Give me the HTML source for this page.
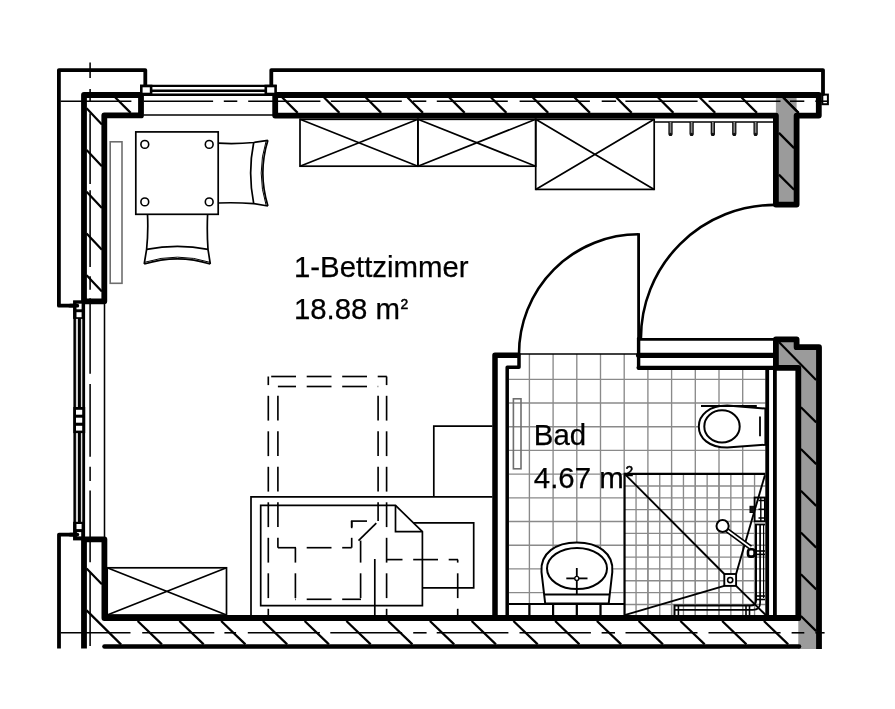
<!DOCTYPE html>
<html><head><meta charset="utf-8"><title>Floor plan</title>
<style>html,body{margin:0;padding:0;background:#fff;}body{width:895px;height:709px;overflow:hidden;font-family:"Liberation Sans",sans-serif;}svg{display:block;will-change:transform;}text{font-family:"Liberation Sans",sans-serif;fill:#000;}</style>
</head><body>
<svg width="895" height="709" viewBox="0 0 895 709">
<rect width="895" height="709" fill="#fff"/>
<g stroke="#8a8a8a" stroke-width="1.35" fill="none">
<line x1="529.40" y1="354" x2="529.40" y2="616"/>
<line x1="553.10" y1="354" x2="553.10" y2="616"/>
<line x1="576.80" y1="354" x2="576.80" y2="616"/>
<line x1="600.50" y1="354" x2="600.50" y2="616"/>
<line x1="624.20" y1="354" x2="624.20" y2="616"/>
<line x1="647.90" y1="370" x2="647.90" y2="616"/>
<line x1="671.60" y1="370" x2="671.60" y2="616"/>
<line x1="695.30" y1="370" x2="695.30" y2="616"/>
<line x1="719.00" y1="370" x2="719.00" y2="616"/>
<line x1="742.70" y1="370" x2="742.70" y2="616"/>
<line x1="509" y1="379.30" x2="765.5" y2="379.30"/>
<line x1="509" y1="403.00" x2="765.5" y2="403.00"/>
<line x1="509" y1="426.70" x2="765.5" y2="426.70"/>
<line x1="509" y1="450.40" x2="765.5" y2="450.40"/>
<line x1="509" y1="474.10" x2="624.5" y2="474.10"/>
<line x1="509" y1="497.80" x2="624.5" y2="497.80"/>
<line x1="509" y1="521.50" x2="624.5" y2="521.50"/>
<line x1="509" y1="545.20" x2="624.5" y2="545.20"/>
<line x1="509" y1="568.90" x2="624.5" y2="568.90"/>
<line x1="509" y1="592.60" x2="624.5" y2="592.60"/>
<line x1="636.05" y1="474.10" x2="636.05" y2="616"/>
<line x1="647.90" y1="474.10" x2="647.90" y2="616"/>
<line x1="659.75" y1="474.10" x2="659.75" y2="616"/>
<line x1="671.60" y1="474.10" x2="671.60" y2="616"/>
<line x1="683.45" y1="474.10" x2="683.45" y2="616"/>
<line x1="695.30" y1="474.10" x2="695.30" y2="616"/>
<line x1="707.15" y1="474.10" x2="707.15" y2="616"/>
<line x1="719.00" y1="474.10" x2="719.00" y2="616"/>
<line x1="730.85" y1="474.10" x2="730.85" y2="616"/>
<line x1="742.70" y1="474.10" x2="742.70" y2="616"/>
<line x1="754.55" y1="474.10" x2="754.55" y2="616"/>
<line x1="624.20" y1="485.95" x2="765.5" y2="485.95"/>
<line x1="624.20" y1="497.80" x2="765.5" y2="497.80"/>
<line x1="624.20" y1="509.65" x2="765.5" y2="509.65"/>
<line x1="624.20" y1="521.50" x2="765.5" y2="521.50"/>
<line x1="624.20" y1="533.35" x2="765.5" y2="533.35"/>
<line x1="624.20" y1="545.20" x2="765.5" y2="545.20"/>
<line x1="624.20" y1="557.05" x2="765.5" y2="557.05"/>
<line x1="624.20" y1="568.90" x2="765.5" y2="568.90"/>
<line x1="624.20" y1="580.75" x2="765.5" y2="580.75"/>
<line x1="624.20" y1="592.60" x2="765.5" y2="592.60"/>
<line x1="624.20" y1="604.45" x2="765.5" y2="604.45"/>
</g>
<g fill="#9b9b9b" stroke="none">
<rect x="775.9" y="95" width="20.7" height="109.6"/>
<polygon points="775.9,339.3 796.6,339.3 796.6,347.2 819,347.2 819,648.9 798.3,648.9 798.3,367.9 775.9,367.9"/>
</g>
<g stroke="#000" stroke-width="2.2" fill="none">
<line x1="115.30" y1="97.5" x2="130.70" y2="112.9"/>
<line x1="282.30" y1="97.5" x2="297.70" y2="112.9"/>
<line x1="324.05" y1="97.5" x2="339.45" y2="112.9"/>
<line x1="365.80" y1="97.5" x2="381.20" y2="112.9"/>
<line x1="407.55" y1="97.5" x2="422.95" y2="112.9"/>
<line x1="449.30" y1="97.5" x2="464.70" y2="112.9"/>
<line x1="491.05" y1="97.5" x2="506.45" y2="112.9"/>
<line x1="532.80" y1="97.5" x2="548.20" y2="112.9"/>
<line x1="574.55" y1="97.5" x2="589.95" y2="112.9"/>
<line x1="616.30" y1="97.5" x2="631.70" y2="112.9"/>
<line x1="658.05" y1="97.5" x2="673.45" y2="112.9"/>
<line x1="699.80" y1="97.5" x2="715.20" y2="112.9"/>
<line x1="741.55" y1="97.5" x2="756.95" y2="112.9"/>
<line x1="783.30" y1="97.5" x2="798.70" y2="112.9"/>
<line x1="86.6" y1="108.30" x2="101.9" y2="124.50"/>
<line x1="86.6" y1="150.05" x2="101.9" y2="166.25"/>
<line x1="86.6" y1="191.80" x2="101.9" y2="208.00"/>
<line x1="86.6" y1="233.55" x2="101.9" y2="249.75"/>
<line x1="86.6" y1="275.30" x2="101.9" y2="291.50"/>
<line x1="86.6" y1="568.5" x2="101.9" y2="584.2"/>
<line x1="86.6" y1="610.4" x2="121.2" y2="644.6"/>
<line x1="137.65" y1="621" x2="161.95" y2="644.4"/>
<line x1="179.40" y1="621" x2="203.70" y2="644.4"/>
<line x1="221.15" y1="621" x2="245.45" y2="644.4"/>
<line x1="262.90" y1="621" x2="287.20" y2="644.4"/>
<line x1="304.65" y1="621" x2="328.95" y2="644.4"/>
<line x1="346.40" y1="621" x2="370.70" y2="644.4"/>
<line x1="388.15" y1="621" x2="412.45" y2="644.4"/>
<line x1="429.90" y1="621" x2="454.20" y2="644.4"/>
<line x1="471.65" y1="621" x2="495.95" y2="644.4"/>
<line x1="513.40" y1="621" x2="537.70" y2="644.4"/>
<line x1="555.15" y1="621" x2="579.45" y2="644.4"/>
<line x1="596.90" y1="621" x2="621.20" y2="644.4"/>
<line x1="638.65" y1="621" x2="662.95" y2="644.4"/>
<line x1="680.40" y1="621" x2="704.70" y2="644.4"/>
<line x1="722.15" y1="621" x2="746.45" y2="644.4"/>
<line x1="763.90" y1="621" x2="788.20" y2="644.4"/>
<line x1="778.9" y1="132.9" x2="794.1" y2="148.1"/>
<line x1="778.9" y1="174.6" x2="794.1" y2="189.8"/>
<line x1="783.3" y1="97.5" x2="798.5" y2="112.9"/>
<line x1="778.9" y1="342" x2="816.1" y2="380.1"/>
<line x1="800.9" y1="407.20" x2="816.2" y2="422.40"/>
<line x1="800.9" y1="448.95" x2="816.2" y2="464.15"/>
<line x1="800.9" y1="490.70" x2="816.2" y2="505.90"/>
<line x1="800.9" y1="532.45" x2="816.2" y2="547.65"/>
<line x1="800.9" y1="574.20" x2="816.2" y2="589.40"/>
<line x1="800.9" y1="615.95" x2="816.2" y2="631.15"/>
</g>
<g stroke="#000" stroke-width="1.55" fill="none">
<line x1="60.6" y1="101.2" x2="131.4" y2="101.2"/>
<line x1="143.4" y1="101.2" x2="213.1" y2="101.2"/>
<line x1="223.8" y1="101.2" x2="237.3" y2="101.2"/>
<line x1="248.2" y1="101.2" x2="320.4" y2="101.2"/>
<line x1="330.8" y1="101.2" x2="401.8" y2="101.2"/>
<line x1="412.8" y1="101.2" x2="426.3" y2="101.2"/>
<line x1="436.8" y1="101.2" x2="507.8" y2="101.2"/>
<line x1="519.6" y1="101.2" x2="589.9" y2="101.2"/>
<line x1="601.7" y1="101.2" x2="616.1" y2="101.2"/>
<line x1="625.4" y1="101.2" x2="697.6" y2="101.2"/>
<line x1="708.6" y1="101.2" x2="780.5" y2="101.2"/>
<line x1="789.9" y1="101.2" x2="804.3" y2="101.2"/>
<line x1="815.3" y1="101.2" x2="828" y2="101.2"/>
<line x1="60.6" y1="632.8" x2="130.5" y2="632.8"/>
<line x1="142.2" y1="632.8" x2="214.3" y2="632.8"/>
<line x1="224.4" y1="632.8" x2="236.1" y2="632.8"/>
<line x1="247.8" y1="632.8" x2="319.9" y2="632.8"/>
<line x1="330.3" y1="632.8" x2="402.1" y2="632.8"/>
<line x1="413.2" y1="632.8" x2="426.6" y2="632.8"/>
<line x1="436.7" y1="632.8" x2="508.4" y2="632.8"/>
<line x1="519.5" y1="632.8" x2="590.9" y2="632.8"/>
<line x1="601.6" y1="632.8" x2="615" y2="632.8"/>
<line x1="625.5" y1="632.8" x2="697.5" y2="632.8"/>
<line x1="708.5" y1="632.8" x2="780.6" y2="632.8"/>
<line x1="791.6" y1="632.8" x2="804.3" y2="632.8"/>
<line x1="815.3" y1="632.8" x2="824.6" y2="632.8"/>
<line x1="90.1" y1="62.6" x2="90.1" y2="77.9"/>
<line x1="90.1" y1="88.9" x2="90.1" y2="101.9"/>
<line x1="90.1" y1="113.2" x2="90.1" y2="184"/>
<line x1="90.1" y1="190.2" x2="90.1" y2="267"/>
<line x1="90.1" y1="276.2" x2="90.1" y2="289.8"/>
<line x1="90.1" y1="298.3" x2="90.1" y2="373.8"/>
<line x1="90.1" y1="384.1" x2="90.1" y2="456.8"/>
<line x1="90.1" y1="466.7" x2="90.1" y2="481"/>
<line x1="90.1" y1="490.5" x2="90.1" y2="562.2"/>
<line x1="90.1" y1="572.3" x2="90.1" y2="646"/>
<line x1="143.4" y1="114.9" x2="273" y2="114.9"/>
<line x1="104.5" y1="304" x2="104.5" y2="537"/>
</g>
<g stroke="#000" fill="none" stroke-linejoin="round" stroke-linecap="round">
<path stroke-width="3.8" d="M145.3,86 L145.3,70.1 L58.9,70.1 L58.9,305.7 L77,305.7"/>
<path stroke-width="3.8" d="M271.3,86 L271.3,70.1 L823,70.1 L823,94"/>
<path stroke-width="3.8" stroke-linecap="butt" d="M77,534.6 L59,534.6 L59,648.6"/>
<path stroke-width="4.6" d="M104.5,646.5 L799,646.5"/>
<path stroke-width="5.8" d="M104.3,301.3 L84,301.3 L84,95 L141,95 L141,115.4 L104.3,115.4 Z"/>
<path stroke-width="5.8" d="M275.2,95 L818.8,95 L818.8,115.6 L796.6,115.6 L796.6,204.6 L775.9,204.6 L775.9,115.6 L275.2,115.6 Z"/>
<path stroke-width="5.8" stroke-linecap="butt" d="M84,648.6 L84,539.3 L104.4,539.3 L104.4,618 L798.3,618"/>
<circle cx="798.3" cy="618" r="2.9" fill="#000" stroke="none"/>
<path stroke-width="5.8" d="M775.9,367.9 L775.9,339.3 L796.6,339.3 L796.6,347.2 L819,347.2 L819,648.9" stroke-linecap="butt"/>
<path stroke-width="5.8" d="M775.9,367.9 L798.3,367.9 L798.3,618"/>
<path stroke-width="3.8" d="M774.9,368 L774.9,616"/>
<path stroke-width="5.5" d="M495,616 L495,355.3 L517.5,355.3"/>
<path stroke-width="3.5" d="M519,354.4 L519,367.3 L507.2,367.3 L507.2,616"/>
<path stroke-width="3.4" d="M638.6,338.5 L638.6,368"/>
<path stroke-width="5.2" d="M638.6,355.3 L773,355.3"/>
<path stroke-width="4.2" d="M638.6,367.8 L773,367.8"/>
<path stroke-width="3.8" d="M767.2,368 L767.2,616"/>
</g>
<g stroke="#000" fill="none" stroke-linecap="butt">
<line x1="638.6" y1="233.2" x2="638.6" y2="353" stroke-width="2.8"/>
<path d="M638.6,234.3 A119.6,119.6 0 0 0 519,353.9" stroke-width="2.6"/>
<line x1="639" y1="339.4" x2="774" y2="339.4" stroke-width="2.8"/>
<path d="M640.9,338.6 A133.7,133.7 0 0 1 774.6,204.9" stroke-width="2.6"/>
<line x1="520" y1="353.9" x2="637" y2="353.9" stroke-width="1.5"/>
</g>
<g stroke="#000" fill="none">
<line x1="140" y1="85.9" x2="276.5" y2="85.9" stroke-width="2.4"/>
<line x1="152" y1="90.8" x2="265" y2="90.8" stroke-width="2.6"/>
<line x1="140" y1="94.7" x2="276.5" y2="94.7" stroke-width="2.5"/>
<rect x="141.3" y="86" width="9.8" height="8" stroke-width="2.6" fill="#fff"/>
<rect x="265.8" y="86" width="9.8" height="8" stroke-width="2.6" fill="#fff"/>
<rect x="73.4" y="301" width="11.7" height="239" fill="#000" stroke="none"/>
<rect x="75.9" y="318" width="2.1" height="205" fill="#d2d2d2" stroke="none"/>
<rect x="80.9" y="318" width="1.4" height="205" fill="#dcdcdc" stroke="none"/>
</g>
<g stroke="none">
<rect x="73.1" y="300.3" width="11.9" height="18.6" fill="#000"/>
<rect x="76.5" y="303.7" width="5.1" height="5.6" fill="#fff"/>
<rect x="76.5" y="312.2" width="5.1" height="5" fill="#fff"/>
<rect x="73.3" y="407" width="11.9" height="26.1" fill="#000"/>
<rect x="76" y="409.8" width="6.2" height="4.9" fill="#fff"/>
<rect x="76" y="417.7" width="6.2" height="5" fill="#fff"/>
<rect x="76" y="425.8" width="6.2" height="4.8" fill="#fff"/>
<rect x="73.1" y="521.8" width="11.9" height="18.6" fill="#000"/>
<rect x="76.5" y="524" width="5.1" height="5.1" fill="#fff"/>
<rect x="76.9" y="532.1" width="4.3" height="4.3" fill="#fff"/>
</g>
<g stroke="#000" stroke-width="2.4" fill="#fff">
<line x1="70" y1="305.7" x2="77.3" y2="305.7" stroke-width="3.8" stroke-linecap="round"/>
<line x1="70" y1="534.6" x2="77.3" y2="534.6" stroke-width="3.8" stroke-linecap="round"/>
<rect x="822.3" y="94.6" width="5.6" height="9.6" stroke-width="2" fill="none"/>
</g>
<g stroke="#000" stroke-width="1.7" fill="none" stroke-linejoin="miter">
<rect x="300" y="119.3" width="117.9" height="46.9"/>
<path d="M300,119.3 L417.9,166.2 M300,166.2 L417.9,119.3"/>
<rect x="417.9" y="119.3" width="117.8" height="46.9"/>
<path d="M417.9,119.3 L535.7,166.2 M417.9,166.2 L535.7,119.3"/>
<rect x="535.7" y="119.3" width="118.5" height="70.1"/>
<path d="M535.7,119.3 L654.2,189.4 M535.7,189.4 L654.2,119.3"/>
<line x1="654.2" y1="121.9" x2="773" y2="121.9" stroke-width="1.5"/>
<path d="M669.0,122 L669.0,134 A1.5,1.5 0 0 0 672.0,134 L672.0,122" stroke-width="1.2" stroke="#000" fill="#888"/>
<circle cx="670.5" cy="134.4" r="1.6" fill="#111" stroke="none"/>
<path d="M690.1,122 L690.1,134 A1.5,1.5 0 0 0 693.1,134 L693.1,122" stroke-width="1.2" stroke="#000" fill="#888"/>
<circle cx="691.6" cy="134.4" r="1.6" fill="#111" stroke="none"/>
<path d="M711.3,122 L711.3,134 A1.5,1.5 0 0 0 714.3,134 L714.3,122" stroke-width="1.2" stroke="#000" fill="#888"/>
<circle cx="712.8" cy="134.4" r="1.6" fill="#111" stroke="none"/>
<path d="M732.8,122 L732.8,134 A1.5,1.5 0 0 0 735.8,134 L735.8,122" stroke-width="1.2" stroke="#000" fill="#888"/>
<circle cx="734.3" cy="134.4" r="1.6" fill="#111" stroke="none"/>
<path d="M754.1,122 L754.1,134 A1.5,1.5 0 0 0 757.1,134 L757.1,122" stroke-width="1.2" stroke="#000" fill="#888"/>
<circle cx="755.6" cy="134.4" r="1.6" fill="#111" stroke="none"/>
<rect x="107.2" y="567.8" width="119.3" height="47.2"/>
<path d="M107.2,567.8 L226.5,615 M107.2,615 L226.5,567.8"/>
<rect x="135.8" y="131.9" width="82.4" height="82.4" fill="#fff"/>
<circle cx="144.8" cy="144.4" r="3.9" stroke-width="1.6"/>
<circle cx="209.2" cy="144.4" r="3.9" stroke-width="1.6"/>
<circle cx="144.8" cy="201.9" r="3.9" stroke-width="1.6"/>
<circle cx="209.2" cy="201.9" r="3.9" stroke-width="1.6"/>
<path d="M218.2,143.2 Q236,144.2 253.7,142.5 L267.9,140.3"/>
<path d="M218.2,203 Q236,202.3 253.7,203.6 L267.9,206"/>
<path d="M253.7,142.5 Q247.6,172.8 253.7,203.6"/>
<path d="M267.9,140.3 Q257.8,172.8 267.9,206"/>
<path d="M266.2,140.8 Q256.2,172.8 266.2,205.6" stroke-width="1"/>
<path d="M147.5,214.3 Q148.4,232 146.6,249.3 L144.2,264"/>
<path d="M207.6,214.3 Q206.8,232 208,249.3 L210.3,264"/>
<path d="M146.6,249.3 Q177.6,243.4 208,249.3"/>
<path d="M144.2,264 Q177.6,253.6 210.3,264"/>
<path d="M144.6,262.3 Q177.6,252 209.9,262.3" stroke-width="1"/>
<path d="M251,615 L251,496.9 L492.5,496.9"/>
<path d="M433.8,496.9 L433.8,426.2 L492.5,426.2"/>
<path d="M395.5,505.4 L260.7,505.4 L260.7,605.7 L422.4,605.7 L422.4,531.6 Z"/>
<path d="M395.5,505.4 L395.5,531.6 L422.4,531.6"/>
<path d="M413.6,522.8 L473.7,522.8 L473.7,587.8 L422.4,587.8"/>
<line x1="374.8" y1="559" x2="374.8" y2="615"/>
<line x1="376.3" y1="523.2" x2="358.5" y2="540.6"/>
</g>
<g stroke="#000" stroke-width="1.65" fill="none">
<line x1="271.2" y1="376.5" x2="296.0" y2="376.5"/>
<line x1="306.7" y1="376.5" x2="331.5" y2="376.5"/>
<line x1="342.2" y1="376.5" x2="367.0" y2="376.5"/>
<line x1="377.7" y1="376.5" x2="386.8" y2="376.5"/>
<line x1="277.9" y1="386.5" x2="296.0" y2="386.5"/>
<line x1="306.7" y1="386.5" x2="331.5" y2="386.5"/>
<line x1="342.2" y1="386.5" x2="367.0" y2="386.5"/>
<line x1="377.7" y1="386.5" x2="378.2" y2="386.5"/>
<line x1="268.3" y1="376.5" x2="268.3" y2="385.1"/>
<line x1="268.3" y1="395.8" x2="268.3" y2="420.6"/>
<line x1="268.3" y1="431.3" x2="268.3" y2="456.1"/>
<line x1="268.3" y1="466.8" x2="268.3" y2="491.6"/>
<line x1="268.3" y1="502.3" x2="268.3" y2="527.1"/>
<line x1="268.3" y1="537.8" x2="268.3" y2="562.6"/>
<line x1="268.3" y1="573.3" x2="268.3" y2="598.1"/>
<line x1="268.3" y1="608.8" x2="268.3" y2="615.0"/>
<line x1="386.6" y1="376.5" x2="386.6" y2="385.1"/>
<line x1="386.6" y1="395.8" x2="386.6" y2="420.6"/>
<line x1="386.6" y1="431.3" x2="386.6" y2="456.1"/>
<line x1="386.6" y1="466.8" x2="386.6" y2="491.6"/>
<line x1="386.6" y1="502.3" x2="386.6" y2="527.1"/>
<line x1="386.6" y1="537.8" x2="386.6" y2="562.6"/>
<line x1="386.6" y1="573.3" x2="386.6" y2="598.1"/>
<line x1="386.6" y1="608.8" x2="386.6" y2="615.0"/>
<line x1="277.9" y1="395.8" x2="277.9" y2="420.6"/>
<line x1="277.9" y1="431.3" x2="277.9" y2="456.1"/>
<line x1="277.9" y1="466.8" x2="277.9" y2="491.6"/>
<line x1="277.9" y1="502.3" x2="277.9" y2="527.1"/>
<line x1="277.9" y1="537.8" x2="277.9" y2="547.7"/>
<line x1="378.1" y1="395.8" x2="378.1" y2="420.6"/>
<line x1="378.1" y1="431.3" x2="378.1" y2="456.1"/>
<line x1="378.1" y1="466.8" x2="378.1" y2="491.6"/>
<line x1="378.1" y1="502.3" x2="378.1" y2="521.1"/>
<line x1="277.9" y1="547.7" x2="296.0" y2="547.7"/>
<line x1="306.7" y1="547.7" x2="331.5" y2="547.7"/>
<line x1="342.2" y1="547.7" x2="351.7" y2="547.7"/>
<line x1="295.4" y1="547.7" x2="295.4" y2="562.6"/>
<line x1="295.4" y1="573.3" x2="295.4" y2="598.1"/>
<line x1="295.4" y1="599.3" x2="296.0" y2="599.3"/>
<line x1="306.7" y1="599.3" x2="331.5" y2="599.3"/>
<line x1="342.2" y1="599.3" x2="361.0" y2="599.3"/>
<line x1="360.6" y1="540.6" x2="360.6" y2="562.6"/>
<line x1="360.6" y1="573.3" x2="360.6" y2="598.1"/>
<line x1="351.7" y1="521.1" x2="351.7" y2="527.1"/>
<line x1="351.7" y1="537.8" x2="351.7" y2="547.7"/>
<line x1="350.9" y1="521.1" x2="367" y2="521.1"/>
<line x1="351.7" y1="521.1" x2="351.7" y2="528.2"/>
<line x1="386.6" y1="559.6" x2="402.5" y2="559.6"/>
<line x1="413.2" y1="559.6" x2="438.0" y2="559.6"/>
<line x1="448.7" y1="559.6" x2="458.0" y2="559.6"/>
<line x1="457.7" y1="559.6" x2="457.7" y2="562.6"/>
<line x1="457.7" y1="573.3" x2="457.7" y2="598.1"/>
<line x1="457.7" y1="608.8" x2="457.7" y2="615.0"/>
</g>
<g stroke="#6e6e6e" stroke-width="1.6" fill="#fff">
<rect x="110.2" y="141.8" width="11.8" height="141.5"/>
<rect x="513.4" y="398.8" width="7.6" height="70" fill="none"/>
</g>
<g stroke="#000" stroke-width="1.8" fill="none">
<line x1="509" y1="604" x2="624" y2="604" stroke-width="2.2"/>
<line x1="529.4" y1="604" x2="529.4" y2="616" stroke-width="2.2"/>
<line x1="553.1" y1="604" x2="553.1" y2="616" stroke-width="2.2"/>
<line x1="576.8" y1="604" x2="576.8" y2="616" stroke-width="2.2"/>
<line x1="600.5" y1="604" x2="600.5" y2="616" stroke-width="2.2"/>
<path d="M545.2,603.5 L541.5,572 C540,553 556,542.5 576.8,542.5 C597.6,542.5 614,553 612.3,572 L608.7,603.5 Z" fill="#fff" stroke-width="2"/>
<ellipse cx="577" cy="568.5" rx="30" ry="20.6" fill="#fff" stroke-width="2"/>
<line x1="544" y1="594.5" x2="609.8" y2="594.5"/>
<line x1="576.8" y1="568" x2="576.8" y2="594.5"/>
<line x1="566.3" y1="578.4" x2="587.5" y2="578.4"/>
<circle cx="576.8" cy="578.4" r="2" fill="#fff" stroke-width="1.3"/>
<path d="M765.4,408.6 L727.2,405.5 C709,405.5 698.8,415 698.8,426.4 C698.8,438 709,447.6 727.2,447.6 L765.4,444.7 Z" fill="#fff" stroke-width="2"/>
<ellipse cx="722" cy="426.4" rx="17.7" ry="16.1" fill="#fff" stroke-width="2"/>
<line x1="701" y1="406" x2="756.8" y2="406" stroke-width="1.8"/>
<line x1="760" y1="416.5" x2="760" y2="436.3" stroke-width="1.8"/>
<line x1="624.6" y1="473.9" x2="765.3" y2="473.9" stroke-width="2.3"/>
<line x1="624.6" y1="472.8" x2="624.6" y2="616" stroke-width="2.1"/>
<g stroke-width="1.9">
<line x1="624.6" y1="473.8" x2="724.3" y2="574"/>
<line x1="764.9" y1="475.2" x2="736.1" y2="574"/>
<line x1="624.6" y1="615.1" x2="724.3" y2="585.9"/>
<line x1="736.1" y1="585.9" x2="766" y2="615.3"/>
</g>
<rect x="724.3" y="574" width="11.8" height="11.9" fill="#fff" stroke-width="1.9"/>
<circle cx="730.2" cy="580.1" r="2.6" stroke-width="1.6" fill="#fff"/>
<path d="M756,524.5 L756,600.5 Q756,605.6 750.5,605.6 L674.5,605.6 L674.5,615.5" stroke-width="2"/>
<path d="M760.1,524.5 L760.1,603 Q760.1,609.8 753,609.8 L674.5,609.8" stroke-width="1.7"/>
<line x1="763.6" y1="524.5" x2="763.6" y2="598" stroke-width="1.2"/>
<line x1="755" y1="524.5" x2="765" y2="524.5" stroke-width="1.8"/>
<line x1="678.4" y1="605.6" x2="678.4" y2="615.5" stroke-width="1.6"/>
<line x1="746" y1="605.6" x2="746" y2="615.5" stroke-width="1.6"/>
<line x1="749.5" y1="605.6" x2="749.5" y2="615.5" stroke-width="1.6"/>
<line x1="757" y1="596" x2="765" y2="596" stroke-width="1.6"/>
<line x1="757" y1="599.5" x2="765" y2="599.5" stroke-width="1.6"/>
<line x1="751" y1="551" x2="765" y2="551" stroke-width="1.6"/>
<line x1="751" y1="554.4" x2="765" y2="554.4" stroke-width="1.6"/>
<rect x="748" y="549.2" width="6.6" height="7.4" rx="2.6" fill="#fff" stroke-width="2.6"/>
<line x1="726" y1="529.5" x2="750.5" y2="547.5" stroke-width="5"/>
<line x1="726" y1="529.5" x2="750.5" y2="547.5" stroke-width="1.6" stroke="#fff"/>
<circle cx="722.6" cy="526" r="6.1" fill="#fff" stroke-width="2"/>
<rect x="754.6" y="497.5" width="10.3" height="23.8" fill="none" stroke-width="1.8"/>
<rect x="750" y="506.3" width="4.6" height="6.2" fill="#111" stroke-width="1"/>
<line x1="758.5" y1="500.5" x2="765" y2="500.5" stroke-width="1.5"/>
<line x1="758.5" y1="509.3" x2="765" y2="509.3" stroke-width="1.5"/>
<line x1="758.5" y1="518" x2="765" y2="518" stroke-width="1.5"/>
<line x1="760.8" y1="497.5" x2="760.8" y2="521.3" stroke-width="1.4"/>
</g>
<g font-size="29.4px" stroke="#000" stroke-width="0.25">
<text x="293.9" y="277">1-Bettzimmer</text>
<text x="293.9" y="319">18.88 m</text>
<text x="400.4" y="309" font-size="13.8px" stroke="#000" stroke-width="0.55">2</text>
<text x="533.8" y="445.4">Bad</text>
<text x="533.8" y="488.1">4.67 m</text>
<text x="625.6" y="476.2" font-size="13.8px" stroke="#000" stroke-width="0.55">2</text>
</g>
</svg>
</body></html>
